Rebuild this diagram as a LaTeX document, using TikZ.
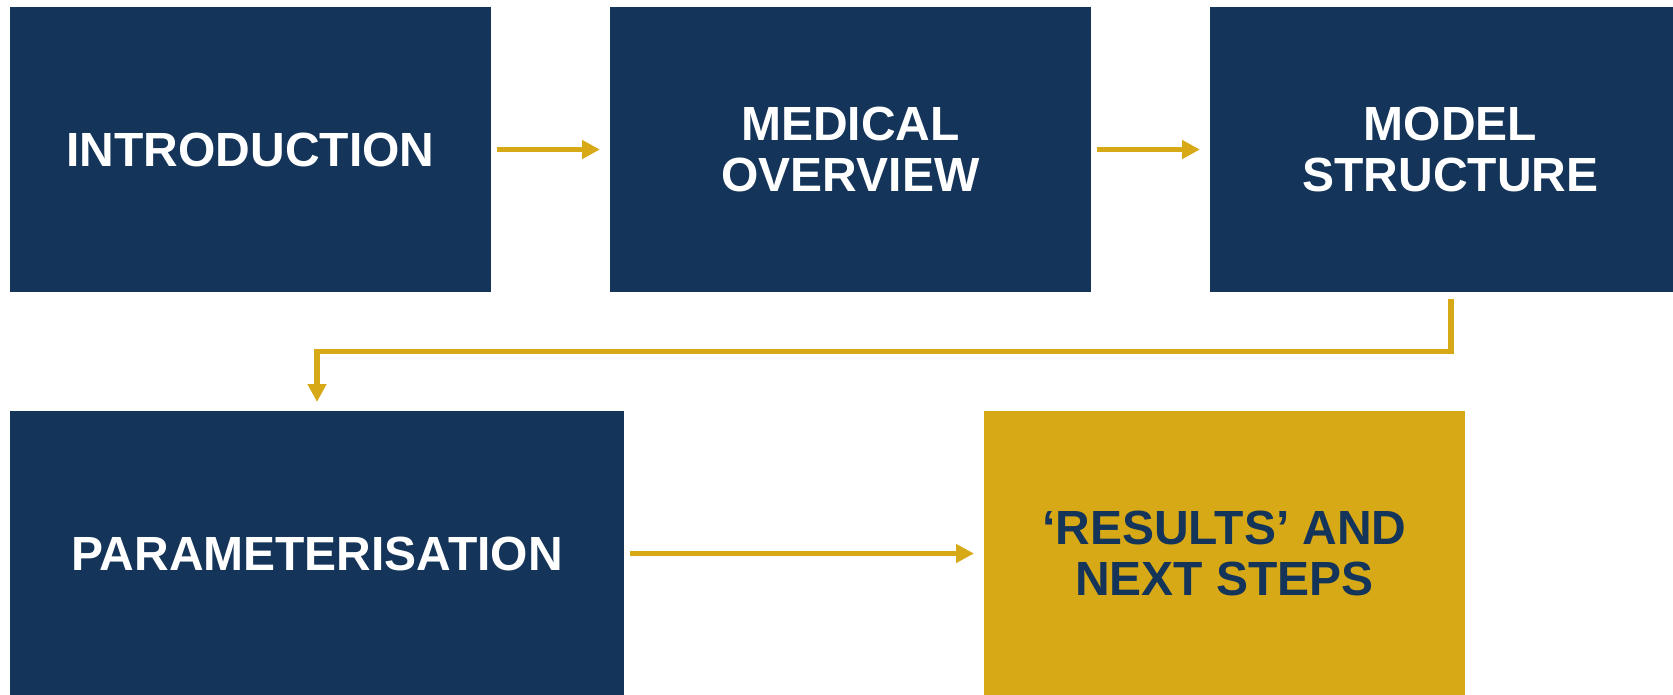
\documentclass[tikz,border=0pt]{standalone}
\usepackage{fontspec}
\setmainfont{Liberation Sans}
\usetikzlibrary{arrows.meta, positioning}
\definecolor{cNavy}{RGB}{20,52,89}
\definecolor{cGold}{RGB}{216,169,23}
\tikzset{
    navybox/.style={rectangle, minimum width=9.62cm, minimum height=5.7cm, inner sep=0pt, outer sep=0pt, align=center, fill=cNavy, text=white, font=\fontsize{27.3}{29}\selectfont\bfseries},
    goldbox/.style={navybox, fill=cGold, text=cNavy},
    flowarrow/.style={-{Triangle[length=0.36cm, width=0.36cm]}, line width=3.4pt, draw=cGold, shorten <=0.12cm, shorten >=0.2cm},
}
\begin{document}
\begin{tikzpicture}[node distance=2.38cm]
    \clip (0,0) rectangle (33.46,-13.88);
    % top row
    \node[navybox] (intro) at (5.01,-2.99) {INTRODUCTION};
    \node[navybox, right=of intro] (medical) {MEDICAL\\OVERVIEW};
    \node[navybox, right=of medical] (model) {MODEL\\STRUCTURE};
    % bottom row
    \node[navybox, minimum width=12.28cm, below=of intro.south west, anchor=north west] (param) {PARAMETERISATION};
    \node[goldbox, right=7.2cm of param] (results) {`RESULTS' AND\\NEXT STEPS};
    % connectors
    \draw[flowarrow] (intro) -- (medical);
    \draw[flowarrow] (medical) -- (model);
    \draw[flowarrow, shorten <=0.14cm, shorten >=0.18cm] (model.south) -- ++(0,-1.19) -| (param.north);
    \draw[flowarrow] (param) -- (results);
\end{tikzpicture}
\end{document}
